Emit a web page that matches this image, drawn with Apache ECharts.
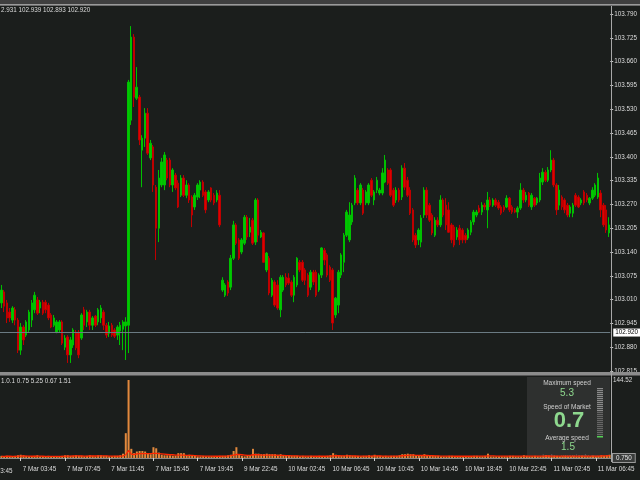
<!DOCTYPE html>
<html><head><meta charset="utf-8">
<script src="https://cdn.jsdelivr.net/npm/echarts@6/dist/echarts.min.js"></script>
<style>html,body{margin:0;padding:0;background:#1b1e1c;}#main{width:640px;height:480px;}</style>
</head><body><div id="main"></div>
<script>
const opens = [
103.001,103.031,103.001,102.976,102.954,102.982,102.954,102.872,102.935,102.913,
102.927,102.954,102.982,103.009,102.987,103.003,103.003,102.995,102.968,102.940,
102.921,102.927,102.949,102.880,102.908,102.859,102.886,102.921,102.921,102.905,
102.982,102.949,102.976,102.940,102.965,102.949,102.960,102.976,102.940,102.918,
102.940,102.927,102.913,102.924,102.929,102.938,102.940,103.500,103.727,103.560,
103.563,103.418,103.451,103.519,103.397,103.427,103.317,103.205,103.323,103.323,
103.391,103.391,103.323,103.350,103.328,103.295,103.342,103.295,103.323,103.290,
103.263,103.290,103.309,103.331,103.304,103.282,103.315,103.295,103.282,103.295,
103.036,103.022,103.058,103.044,103.123,103.214,103.173,103.140,103.164,103.235,
103.194,103.227,103.167,103.282,103.181,103.192,103.091,103.123,103.022,103.058,
103.050,102.982,103.036,103.071,103.069,103.058,103.022,103.050,103.112,103.112,
103.091,103.077,103.044,103.085,103.085,103.036,103.077,103.145,103.132,103.099,
103.091,102.968,102.995,103.077,103.112,103.186,103.173,103.222,103.274,103.309,
103.274,103.309,103.274,103.274,103.336,103.282,103.309,103.301,103.301,103.331,
103.364,103.364,103.309,103.282,103.309,103.290,103.369,103.336,103.309,103.255,
103.186,103.173,103.167,103.241,103.309,103.268,103.241,103.186,103.227,103.214,
103.282,103.268,103.255,103.214,103.208,103.181,103.205,103.200,103.186,103.178,
103.194,103.222,103.241,103.260,103.249,103.268,103.255,103.282,103.268,103.282,
103.276,103.263,103.263,103.263,103.287,103.263,103.255,103.249,103.260,103.309,
103.282,103.301,103.263,103.287,103.274,103.282,103.331,103.358,103.336,103.364,
103.391,103.323,103.268,103.290,103.282,103.268,103.246,103.246,103.295,103.290,
103.274,103.304,103.295,103.274,103.287,103.295,103.290,103.301,103.268,103.255,103.192];
const closes = [
103.036,102.992,102.960,102.960,102.987,102.954,102.872,102.935,102.900,102.949,
102.976,103.001,103.022,102.973,103.003,102.973,102.982,102.960,102.935,102.960,
102.949,102.949,102.891,102.905,102.859,102.900,102.927,102.878,102.859,102.968,
102.940,102.976,102.940,102.960,102.940,102.982,102.987,102.940,102.913,102.938,
102.913,102.910,102.935,102.940,102.949,102.949,103.604,103.727,103.563,103.590,
103.446,103.451,103.519,103.410,103.437,103.323,103.205,103.342,103.386,103.405,
103.342,103.323,103.364,103.315,103.263,103.342,103.295,103.323,103.282,103.241,
103.295,103.323,103.331,103.295,103.255,103.304,103.282,103.274,103.301,103.214,
103.063,103.050,103.028,103.123,103.214,103.164,103.123,103.173,103.235,103.181,
103.208,103.164,103.282,103.186,103.194,103.112,103.137,103.028,103.063,102.995,
102.987,103.071,103.071,103.050,103.055,103.022,103.071,103.123,103.091,103.063,
103.063,103.022,103.085,103.058,103.022,103.077,103.151,103.118,103.077,103.063,
102.946,103.014,103.085,103.132,103.186,103.249,103.241,103.268,103.342,103.274,
103.323,103.246,103.304,103.323,103.295,103.304,103.336,103.309,103.356,103.391,
103.328,103.295,103.268,103.309,103.282,103.369,103.317,103.295,103.246,103.173,
103.159,103.200,103.233,103.309,103.241,103.227,103.192,103.227,103.214,103.282,
103.241,103.214,103.194,103.173,103.159,103.200,103.173,103.173,103.173,103.200,
103.222,103.249,103.249,103.249,103.268,103.263,103.282,103.268,103.282,103.268,
103.260,103.246,103.255,103.287,103.255,103.249,103.249,103.260,103.309,103.282,
103.295,103.268,103.295,103.268,103.287,103.342,103.358,103.336,103.364,103.391,
103.323,103.255,103.309,103.263,103.255,103.241,103.263,103.268,103.268,103.263,
103.282,103.274,103.282,103.287,103.309,103.323,103.342,103.255,103.214,103.200,103.214];
const lows = [
102.987,102.976,102.946,102.949,102.946,102.940,102.864,102.859,102.886,102.908,
102.921,102.935,102.973,102.968,102.973,102.968,102.973,102.954,102.932,102.935,
102.918,102.921,102.886,102.872,102.837,102.837,102.878,102.872,102.850,102.900,
102.927,102.935,102.927,102.927,102.935,102.940,102.946,102.927,102.905,102.908,
102.908,102.905,102.900,102.886,102.872,102.845,102.864,103.487,103.536,103.555,
103.432,103.317,103.427,103.405,103.391,103.304,103.118,103.167,103.317,103.309,
103.336,103.317,103.304,103.309,103.260,103.290,103.290,103.287,103.274,103.208,
103.255,103.282,103.287,103.290,103.246,103.276,103.276,103.268,103.276,103.208,
103.031,103.017,103.020,103.036,103.118,103.159,103.118,103.134,103.159,103.173,
103.181,103.159,103.159,103.167,103.178,103.110,103.085,103.022,103.017,102.990,
102.982,102.962,103.031,103.044,103.050,103.017,103.003,103.044,103.085,103.058,
103.050,103.017,103.036,103.050,103.017,103.031,103.069,103.104,103.071,103.058,
102.927,102.960,102.973,103.069,103.085,103.181,103.167,103.214,103.268,103.268,
103.268,103.241,103.268,103.268,103.290,103.268,103.301,103.295,103.295,103.328,
103.323,103.290,103.263,103.274,103.276,103.282,103.309,103.290,103.241,103.167,
103.151,103.159,103.153,103.233,103.233,103.222,103.186,103.181,103.208,103.208,
103.235,103.200,103.192,103.164,103.153,103.173,103.159,103.164,103.164,103.173,
103.186,103.214,103.235,103.246,103.241,103.255,103.205,103.263,103.263,103.263,
103.255,103.241,103.249,103.260,103.249,103.244,103.246,103.233,103.255,103.274,
103.276,103.263,103.255,103.263,103.268,103.276,103.323,103.331,103.331,103.358,
103.317,103.241,103.255,103.255,103.246,103.235,103.235,103.235,103.263,103.260,
103.268,103.268,103.276,103.268,103.282,103.290,103.285,103.235,103.208,103.192,103.181];
const highs = [
103.050,103.036,103.009,102.987,102.992,102.990,102.960,102.946,102.940,102.954,
102.982,103.009,103.031,103.017,103.009,103.009,103.009,103.001,102.973,102.968,
102.954,102.954,102.954,102.913,102.913,102.908,102.932,102.927,102.927,102.973,
102.990,102.982,102.982,102.965,102.968,102.987,102.995,102.982,102.946,102.949,
102.946,102.932,102.940,102.949,102.954,102.962,103.610,103.757,103.735,103.645,
103.569,103.459,103.533,103.533,103.446,103.432,103.323,103.364,103.397,103.413,
103.397,103.397,103.369,103.356,103.336,103.350,103.350,103.336,103.328,103.295,
103.301,103.328,103.336,103.336,103.309,103.309,103.317,103.301,103.309,103.309,
103.071,103.055,103.063,103.132,103.225,103.219,103.178,103.178,103.241,103.241,
103.233,103.233,103.287,103.287,103.200,103.194,103.140,103.129,103.069,103.063,
103.063,103.077,103.077,103.082,103.082,103.063,103.077,103.126,103.118,103.118,
103.096,103.082,103.091,103.091,103.091,103.082,103.153,103.151,103.137,103.104,
103.096,103.017,103.091,103.137,103.192,103.255,103.276,103.274,103.350,103.315,
103.328,103.315,103.309,103.328,103.342,103.309,103.345,103.315,103.369,103.405,
103.369,103.369,103.315,103.317,103.315,103.377,103.383,103.345,103.317,103.260,
103.192,103.205,103.241,103.317,103.317,103.274,103.246,103.235,103.235,103.295,
103.287,103.287,103.276,103.219,103.214,103.208,103.214,103.205,103.192,103.205,
103.227,103.255,103.255,103.268,103.276,103.274,103.304,103.290,103.287,103.287,
103.282,103.268,103.268,103.295,103.290,103.268,103.260,103.265,103.328,103.315,
103.304,103.304,103.301,103.290,103.290,103.356,103.369,103.364,103.372,103.418,
103.397,103.328,103.323,103.295,103.287,103.274,103.268,103.274,103.301,103.295,
103.287,103.309,103.301,103.290,103.317,103.328,103.356,103.309,103.274,103.268,103.235];
const speedBars = [
4,3,4,3,3,4,5,6,5,4, 3,3,4,5,3,3,3,4,3,3, 3,3,4,5,5,4,4,5,4,4, 3,4,5,4,3,5,5,4,4,3,
3,4,4,5,8,46,144.5,17,9,12, 13,13,12,9,7,20,18,10,6,5, 5,5,4,4,9,9,9,4,6,5, 4,3,3,4,3,3,3,3,3,4,
4,4,5,6,13,20,6,4,3,4, 5,17,8,8,7,7,8,7,7,7, 6,7,4,4,5,4,4,4,3,4, 3,3,4,3,3,4,3,3,4,5,
9,6,5,4,4,6,5,4,4,4, 3,4,4,5,4,6,4,4,3,4, 3,4,4,4,5,7,7,8,7,7, 5,4,4,7,5,4,4,4,4,3,
3,3,4,4,3,3,3,3,3,3, 3,4,4,3,3,4,8,3,3,3, 3,3,3,3,4,4,3,3,3,5, 4,3,3,4,3,3,4,5,4,3,
4,4,3,3,4,3,3,4,3,3, 4,3,3,3,4,3,4,5,4,5,6];
const speedAvg = [
3,3,3.2,3.2,3,3,3.3,3.6,3.8,3.6, 3.4,3.2,3.2,3.3,3.3,3.2,3,3,3,3, 3,3,3.1,3.3,3.5,3.6,3.7,3.8,3.8,3.7,
3.6,3.6,3.7,3.8,3.7,3.8,3.9,3.9,3.8,3.6, 3.5,3.5,3.5,3.6,4,6,14,7,6.5,7.5, 8,8,8,8,8,8.5,8.5,8,7.5,7,
6.5,6,6,5.5,5.5,5.5,5.5,5,5,4.8, 4.5,4,3.8,3.6,3.5,3.4,3.3,3.2,3.2,3.2, 3.4,3.6,3.8,4.5,5.5,6.5,6.5,6,5.5,5,
5,6,6,6,5.5,5.5,5.5,5.5,5.5,5.5, 5,5,4.8,4.5,4.3,4,4,3.8,3.6,3.5, 3.4,3.3,3.3,3.2,3.2,3.2,3.2,3.2,3.3,3.4,
4,4.2,4.2,4,4,4,4,3.8,3.7,3.6, 3.5,3.5,3.5,3.6,3.6,3.8,3.8,3.7,3.6,3.5, 3.5,3.5,3.5,3.6,3.8,4.2,4.6,5,5.2,5.2,
5,4.8,4.6,4.8,4.6,4.4,4.2,4,3.8,3.6, 3.5,3.4,3.3,3.3,3.2,3.2,3.2,3.2,3.2,3.2, 3.2,3.3,3.4,3.4,3.4,3.5,4,4,3.8,3.6,
3.5,3.4,3.3,3.3,3.4,3.5,3.4,3.3,3.3,3.6, 3.6,3.5,3.5,3.5,3.5,3.4,3.5,3.7,3.7,3.6, 3.6,3.6,3.5,3.4,3.5,3.4,3.4,3.5,3.4,3.4,
3.5,3.4,3.4,3.3,3.4,3.4,3.5,3.7,3.8,4,4.3];
const priceTicks = [102.815,102.880,102.945,103.010,103.075,103.140,103.205,103.270,103.335,103.400,103.465,103.530,103.595,103.660,103.725,103.790];
const timeTickLabels = ["7 Mar 03:45","7 Mar 07:45","7 Mar 11:45","7 Mar 15:45","7 Mar 19:45","9 Mar 22:45","10 Mar 02:45","10 Mar 06:45","10 Mar 10:45","10 Mar 14:45","10 Mar 18:45","10 Mar 22:45","11 Mar 02:45","11 Mar 06:45"];
const currentPrice = 102.920;
const headerText = "2.931 102.939 102.893 102.920";
const subHeaderText = "1.0.1 0.75 5.25 0.67 1.51";
const subMaxLabel = 144.52, subMinLabel = "0.750";
const panelInfo = {maxSpeed:"5.3", speed:"0.7", avgSpeed:"1.5"};

// M15 bar times: Friday session then Sunday reopening
const MON = ["Jan","Feb","Mar"];
function fmt(d){return d.getUTCDate()+" "+MON[d.getUTCMonth()]+" "+String(d.getUTCHours()).padStart(2,"0")+":"+String(d.getUTCMinutes()).padStart(2,"0");}
const cats = [];
{
  let t = Date.UTC(2014,2,7,2,0);
  for (let i=0;i<80;i++){cats.push(fmt(new Date(t)));t+=900000;}
  t = Date.UTC(2014,2,9,21,0);
  while (cats.length < opens.length){cats.push(fmt(new Date(t)));t+=900000;}
}
const candles = opens.map((o,i)=>[o,closes[i],lows[i],highs[i]]);
const showIdx = (i,v)=>timeTickLabels.indexOf(cats[i])>=0;

const FF = "Liberation Sans, Arial, sans-serif";
const TXT = "#dcdcdc";
const chart = echarts.init(document.getElementById('main'));
const meter = [];
for (let k=0;k<24;k++){
  meter.push({type:'rect',shape:{x:597,y:388+k*2,width:6,height:1.2},style:{fill: k<12?'#8a8a8a':'#666'}});
}
meter.push({type:'rect',shape:{x:597,y:436,width:6,height:1.5},style:{fill:'#55d055'}});

chart.setOption({
  backgroundColor:'#1b1e1c',
  animation:false,
  grid:[{left:0,right:29,top:14,height:357},{left:0,right:29,top:380,height:78}],
  xAxis:[
    {type:'category',gridIndex:0,data:cats,axisLine:{show:false},axisTick:{show:false},axisLabel:{show:false},splitLine:{show:false}},
    {type:'category',gridIndex:1,data:cats,offset:4,
     axisLine:{show:true,lineStyle:{color:'#8a8a8a'}},
     axisTick:{show:true,alignWithLabel:true,interval:showIdx,length:3,lineStyle:{color:'#cfcfcf'}},
     axisLabel:{interval:showIdx,align:'left',margin:4,color:TXT,fontSize:6.3,fontFamily:FF,padding:[0,0,0,2],hideOverlap:false},
     splitLine:{show:false}}
  ],
  yAxis:[
    {type:'value',gridIndex:0,position:'right',min:102.815,max:103.790,scale:true,
     axisLine:{show:false},
     axisTick:{show:true,customValues:priceTicks,length:3,lineStyle:{color:'#c8c8c8'}},
     axisLabel:{customValues:priceTicks,formatter:v=>v.toFixed(3),color:TXT,fontSize:6.3,fontFamily:FF,margin:4},
     splitLine:{show:false}},
    {type:'value',gridIndex:1,position:'right',min:0,max:subMaxLabel,
     axisLine:{show:false},axisTick:{show:false},
     axisLabel:{customValues:[0,subMaxLabel],margin:2,fontFamily:FF,fontSize:6.3,color:TXT,
       formatter:v=>v===0?'{b|'+subMinLabel+'}':String(subMaxLabel),
       rich:{b:{backgroundColor:'#3a3c3b',borderColor:'#9a9a9a',borderWidth:1,padding:[1,3],color:'#e8e8e8',fontSize:6.3,fontFamily:FF}}},
     splitLine:{show:false}}
  ],
  series:[
    {type:'candlestick',xAxisIndex:0,yAxisIndex:0,data:candles,barWidth:2,
     itemStyle:{color:'#00c800',color0:'#e00000',borderColor:'#00c000',borderColor0:'#c00000',borderWidth:1},
     markLine:{silent:true,symbol:'none',data:[{yAxis:currentPrice}],
       lineStyle:{color:'#6b7b83',width:1,type:'solid'},
       label:{show:true,position:'end',distance:3,formatter:currentPrice.toFixed(3),backgroundColor:'#ffffff',color:'#000000',fontSize:6.3,fontFamily:FF,padding:[1,2]}}},
    {type:'bar',xAxisIndex:1,yAxisIndex:1,data:speedBars,barWidth:2,itemStyle:{color:'#e2893d'}},
    {type:'line',xAxisIndex:1,yAxisIndex:1,data:speedAvg,symbol:'none',lineStyle:{color:'#ff2600',width:1.3}}
  ],
  graphic:[
    {type:'rect',z:100,shape:{x:0,y:0,width:640,height:6},style:{fill:'#3f3f3f'}},
    {type:'rect',z:100,shape:{x:0,y:4,width:640,height:1.5},style:{fill:'#9a9a9a'}},
    {type:'rect',z:100,shape:{x:0,y:372,width:640,height:4},style:{fill:'#8c8c8c'}},
    {type:'rect',z:100,shape:{x:0,y:375,width:640,height:1},style:{fill:'#555'}},
    {type:'line',z:100,shape:{x1:611.5,y1:6,x2:611.5,y2:462},style:{stroke:'#a8a8a8',lineWidth:1}},
    {type:'text',z:100,left:1,top:7,style:{text:headerText,fill:TXT,font:'6.3px '+FF}},
    {type:'text',z:100,left:1,top:378,style:{text:subHeaderText,fill:TXT,font:'6.3px '+FF}},
    {type:'text',z:100,x:-21,y:468,style:{text:"6 Mar 23:45",fill:TXT,font:'6.3px '+FF}},
    {type:'group',z:100,children:[
      {type:'rect',shape:{x:527,y:377,width:83,height:81},style:{fill:'#2e302f'}},
      {type:'text',x:567,y:383,style:{text:'Maximum speed',fill:'#d0d0d0',font:'6.5px '+FF,textAlign:'center',textVerticalAlign:'middle'}},
      {type:'text',x:567,y:393,style:{text:panelInfo.maxSpeed,fill:'#8ed88e',font:'10px '+FF,textAlign:'center',textVerticalAlign:'middle'}},
      {type:'text',x:567,y:407,style:{text:'Speed of Market',fill:'#d0d0d0',font:'6.5px '+FF,textAlign:'center',textVerticalAlign:'middle'}},
      {type:'text',x:569,y:421,style:{text:panelInfo.speed,fill:'#8ed88e',font:'bold 22px '+FF,textAlign:'center',textVerticalAlign:'middle'}},
      {type:'text',x:567,y:438,style:{text:'Average speed',fill:'#d0d0d0',font:'6.5px '+FF,textAlign:'center',textVerticalAlign:'middle'}},
      {type:'text',x:568,y:447,style:{text:panelInfo.avgSpeed,fill:'#8ed88e',font:'10px '+FF,textAlign:'center',textVerticalAlign:'middle'}},
      {type:'text',x:570,y:457,style:{text:'Icefx - www.icefx.eu',fill:'#6a6a6a',font:'6.3px '+FF,textAlign:'center',textVerticalAlign:'middle'}}
    ].concat(meter)}
  ]
});
</script></body></html>
